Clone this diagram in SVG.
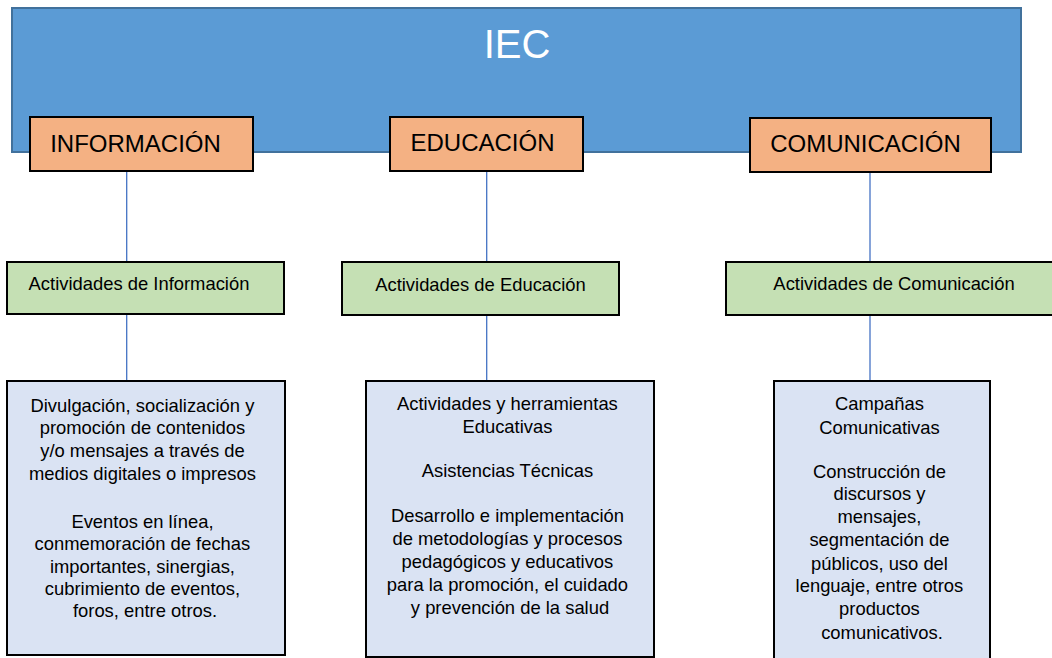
<svg xmlns="http://www.w3.org/2000/svg" width="1052" height="658" viewBox="0 0 1052 658">
<style>
text{font-family:"Liberation Sans",Arial,sans-serif;fill:#000;text-anchor:middle}
.top{fill:#5B9BD5;stroke:#41719C;stroke-width:2}
.cat{fill:#F4B183;stroke:#000;stroke-width:2}
.act{fill:#C5E0B4;stroke:#000;stroke-width:2}
.det{fill:#DAE3F3;stroke:#000;stroke-width:2}
.catt{font-size:24px}
.actt{font-size:18.4px}
.dett{font-size:18.4px}
.conn line{stroke:#4472C4;stroke-width:1.3}
</style>
<rect width="1052" height="658" fill="#fff"/>
<g id="iec">
<rect class="top" x="12" y="8" width="1009" height="144"/>
<text x="517" y="58" style="font-size:40px;fill:#fff">IEC</text>
</g>
<g class="conn" id="connectors">
<line x1="126.7" y1="171" x2="126.7" y2="262"/>
<line x1="126.7" y1="314" x2="126.7" y2="381"/>
<line x1="486.7" y1="171" x2="486.7" y2="262"/>
<line x1="486.7" y1="315" x2="486.7" y2="381"/>
<line x1="870" y1="172" x2="870" y2="262"/>
<line x1="870" y1="315" x2="870" y2="381"/>
</g>
<g id="informacion">
<rect class="cat" x="30" y="117" width="223" height="54"/>
<text class="catt" x="135.5" y="151.5">INFORMACIÓN</text>
</g>
<g id="educacion">
<rect class="cat" x="390" y="117" width="193" height="54"/>
<text class="catt" x="482.5" y="151">EDUCACIÓN</text>
</g>
<g id="comunicacion">
<rect class="cat" x="750" y="118" width="241" height="54"/>
<text class="catt" x="865.5" y="151.5">COMUNICACIÓN</text>
</g>
<g id="act-informacion">
<rect class="act" x="7" y="262" width="277" height="52"/>
<text class="actt" x="139" y="290">Actividades de Información</text>
</g>
<g id="act-educacion">
<rect class="act" x="342" y="262" width="277" height="53"/>
<text class="actt" x="480.5" y="291">Actividades de Educación</text>
</g>
<g id="act-comunicacion">
<rect class="act" x="726" y="262" width="330" height="53"/>
<text class="actt" x="894" y="289.5">Actividades de Comunicación</text>
</g>
<g id="det-informacion">
<rect class="det" x="7" y="381" width="278" height="274"/>
<text class="dett">
<tspan x="145" y="411.5">Divulgación, socialización y</tspan>
<tspan x="145" y="434">promoción de contenidos</tspan>
<tspan x="145" y="457">y/o mensajes a través de</tspan>
<tspan x="145" y="479.5">medios digitales o impresos</tspan>
<tspan x="145" y="527.5">Eventos en línea,</tspan>
<tspan x="145" y="550">conmemoración de fechas</tspan>
<tspan x="145" y="572.5">importantes, sinergias,</tspan>
<tspan x="145" y="595">cubrimiento de eventos,</tspan>
<tspan x="145" y="617">foros, entre otros.</tspan>
</text>
</g>
<g id="det-educacion">
<rect class="det" x="366" y="381" width="288" height="276"/>
<text class="dett">
<tspan x="510" y="409.5">Actividades y herramientas</tspan>
<tspan x="510" y="432.5">Educativas</tspan>
<tspan x="510" y="476.5">Asistencias Técnicas</tspan>
<tspan x="510" y="521.5">Desarrollo e implementación</tspan>
<tspan x="510" y="545">de metodologías y procesos</tspan>
<tspan x="510" y="567.5">pedagógicos y educativos</tspan>
<tspan x="510" y="590.5">para la promoción, el cuidado</tspan>
<tspan x="510" y="613.5">y prevención de la salud</tspan>
</text>
</g>
<g id="det-comunicacion">
<rect class="det" x="774" y="381" width="216" height="290"/>
<text class="dett">
<tspan x="882" y="410">Campañas</tspan>
<tspan x="882" y="433.5">Comunicativas</tspan>
<tspan x="882" y="477.5">Construcción de</tspan>
<tspan x="882" y="500">discursos y</tspan>
<tspan x="882" y="523">mensajes,</tspan>
<tspan x="882" y="546">segmentación de</tspan>
<tspan x="882" y="569.5">públicos, uso del</tspan>
<tspan x="882" y="592">lenguaje, entre otros</tspan>
<tspan x="882" y="615">productos</tspan>
<tspan x="882" y="638.5">comunicativos.</tspan>
</text>
</g>
</svg>
